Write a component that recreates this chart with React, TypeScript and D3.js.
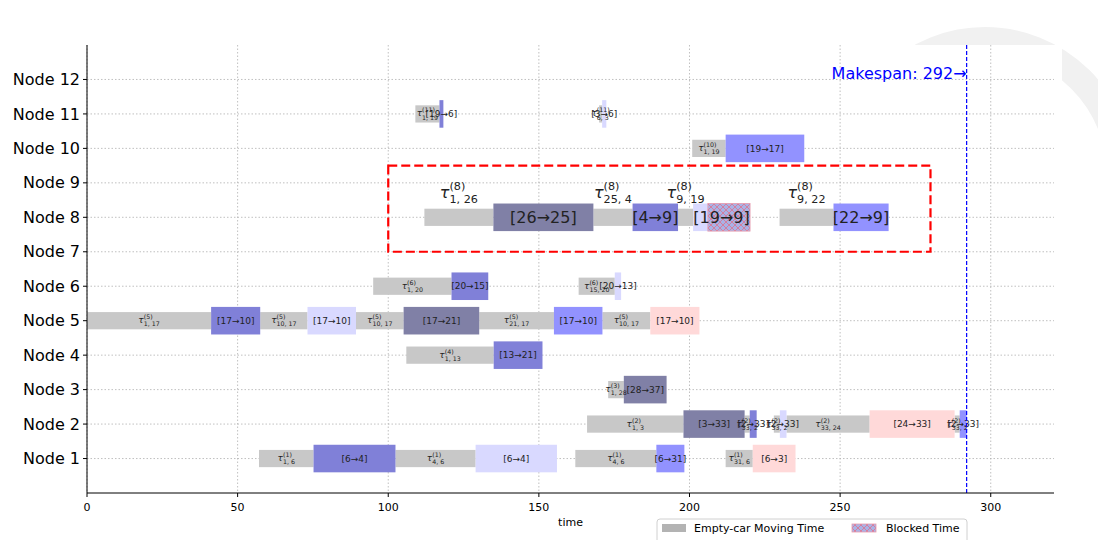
import React from 'react';
import * as d3 from 'd3';

// node rows
const nodeLabels = ['Node 1', 'Node 2', 'Node 3', 'Node 4', 'Node 5', 'Node 6', 'Node 7', 'Node 8', 'Node 9', 'Node 10', 'Node 11', 'Node 12'];
const xTicks = [0, 50, 100, 150, 200, 250, 300];

// empty-car moves: [node, start, end, superscript, subscript]
const emptyMoves: [number, number, number, string, string][] = [
  [1, 57.1, 75.2, '1', '1,6'],
  [1, 102.4, 129, '1', '4,6'],
  [1, 162.1, 189, '1', '4,6'],
  [1, 212, 221, '1', '31,6'],
  [2, 166, 198, '2', '1,3'],
  [2, 218.3, 220, '2', '33,2'],
  [2, 228, 230, '2', '33,2'],
  [2, 232.2, 259.8, '2', '33,24'],
  [2, 288, 289.7, '2', '33,2'],
  [3, 173, 178.2, '3', '1,28'],
  [4, 106, 135, '4', '1,13'],
  [5, 0, 41.2, '5', '1,17'],
  [5, 57.5, 73.2, '5', '10,17'],
  [5, 89.3, 105.1, '5', '10,17'],
  [5, 130.2, 155, '5', '21,17'],
  [5, 171.1, 187, '5', '10,17'],
  [6, 95, 121, '6', '1,20'],
  [6, 163.2, 175.2, '6', '15,20'],
  [8, 112, 134.9, '8', '1,26'],
  [8, 168.1, 181.1, '8', '25,4'],
  [8, 196.2, 201.2, '8', '9,19'],
  [8, 229.9, 247.8, '8', '9,22'],
  [10, 200.9, 212, '10', '1,19'],
  [11, 109, 117, '11', '1,19'],
  [11, 170, 171, '11', '6,3'],
];

// transport tasks: [node, start, end, from, to, kind]
const tasks: [number, number, number, number, number, string][] = [
  [1, 75.2, 102.4, 6, 4, 'mid'],
  [1, 129, 156, 6, 4, 'light'],
  [1, 189, 198.3, 6, 31, 'bright'],
  [1, 221, 235.2, 6, 3, 'pink'],
  [2, 198, 218.3, 3, 33, 'dark'],
  [2, 220, 222.3, 2, 33, 'mid'],
  [2, 230, 232.2, 2, 33, 'light'],
  [2, 259.8, 288, 24, 33, 'pink'],
  [2, 289.7, 292, 2, 33, 'bright'],
  [3, 178.2, 192.4, 28, 37, 'dark'],
  [4, 135, 151.2, 13, 21, 'mid'],
  [5, 41.2, 57.5, 17, 10, 'mid'],
  [5, 73.2, 89.3, 17, 10, 'light'],
  [5, 105.1, 130.2, 17, 21, 'dark'],
  [5, 155, 171.1, 17, 10, 'bright'],
  [5, 187, 203.3, 17, 10, 'pink'],
  [6, 121, 133.2, 20, 15, 'mid'],
  [6, 175.2, 177.3, 20, 13, 'light'],
  [8, 134.9, 168.1, 26, 25, 'dark'],
  [8, 181.1, 196.2, 4, 9, 'mid'],
  [8, 201.2, 220.1, 19, 9, 'light'],
  [8, 247.8, 266.1, 22, 9, 'bright'],
  [10, 212, 238.1, 19, 17, 'bright'],
  [11, 117, 118.3, 19, 6, 'mid'],
  [11, 171, 172.4, 3, 6, 'light'],
];

// blocked intervals: [node, start, end]
const blocked: [number, number, number][] = [[8, 206.1, 220.1]];

const makespan = 292;
const highlightNode = 8;
const highlightBox = { x0: 100, x1: 280, y0: 7, y1: 9.5 };

const kindColor: Record<string, string> = {
  dark: '#8080a6',
  mid: '#8080d8',
  bright: '#9292ff',
  light: '#d9d9ff',
  pink: '#ffd9d9',
};

const FONT = 'DejaVu Sans, sans-serif';

const charW = (c: string) => (c === ',' || c === ' ' ? 0.318 : c === '(' || c === ')' ? 0.39 : 0.636);
const strW = (s: string, size: number) => s.split('').reduce((a, c) => a + charW(c), 0) * size;

function Tau({ cx, cy, k, sub, size }: { cx: number; cy: number; k: string; sub: string; size: number }) {
  const s = size * 0.7;
  const subTxt = sub.replace(',', ', ');
  const supTxt = '(' + k + ')';
  const tw = size * 0.6;
  const total = tw + Math.max(strW(supTxt, s), strW(subTxt, s));
  const x0 = cx - total / 2;
  return (
    <g fontFamily={FONT} fill="#222">
      <text x={x0} y={cy + size * 0.27} fontSize={size} fontStyle="italic">τ</text>
      <text x={x0 + tw} y={cy - size * 0.42 + s * 0.35} fontSize={s}>{supTxt}</text>
      <text x={x0 + tw} y={cy + size * 0.38 + s * 0.35} fontSize={s}>{subTxt}</text>
    </g>
  );
}

export default function App() {
  const W = 1098, H = 540;
  const x = d3.scaleLinear().domain([0, 321]).range([87, 1054]);
  const y = d3.scaleLinear().domain([0, 13]).range([493, 45]);
  const unit = y(0) - y(1);
  const grayH = unit * 0.5;
  const barH = unit * 0.8;
  const nodes = d3.range(1, nodeLabels.length + 1);

  return (
    <svg width={W} height={H} style={{ position: 'absolute', left: 0, top: 0 }}>
      <defs>
        <pattern id="hatch" width="6" height="6" patternUnits="userSpaceOnUse">
          <rect width="6" height="6" fill="#a9b3e6" />
          <path d="M0,0 L6,6 M6,0 L0,6" stroke="#e0708c" strokeWidth="0.8" />
        </pattern>
        <clipPath id="sealClip">
          <rect x={0} y={0} width={W} height={160} />
        </clipPath>
      </defs>
      <rect width={W} height={H} fill="#fff" />
      {/* faint seal watermark */}
      <circle cx={985} cy={175} r={135} fill="none" stroke="#f1f1f1" strokeWidth={26} clipPath="url(#sealClip)" />
      <rect x={x(0)} y={y(13)} width={1062 - x(0)} height={y(0) - y(13)} fill="#fff" />

      {/* grid */}
      <g stroke="#b0b0b0" strokeWidth={0.8} strokeDasharray="1.5,2">
        {nodes.map(n => <line key={'h' + n} x1={x(0)} x2={x(321)} y1={y(n)} y2={y(n)} />)}
        {xTicks.map(t => <line key={'v' + t} x1={x(t)} x2={x(t)} y1={y(13)} y2={y(0)} />)}
      </g>

      {/* empty-car bars */}
      {emptyMoves.map(([n, s, e], i) => (
        <rect key={'g' + i} x={x(s)} y={y(n) - grayH / 2} width={x(e) - x(s)} height={grayH} fill="#c8c8c8" />
      ))}
      {/* tasks */}
      {tasks.map(([n, s, e, , , kind], i) => (
        <rect key={'t' + i} x={x(s)} y={y(n) - barH / 2} width={x(e) - x(s)} height={barH} fill={kindColor[kind]} />
      ))}
      {blocked.map(([n, s, e], i) => (
        <rect key={'b' + i} x={x(s)} y={y(n) - barH / 2} width={x(e) - x(s)} height={barH} fill="url(#hatch)" stroke="#e89aac" strokeWidth={0.8} />
      ))}

      {/* labels */}
      {emptyMoves.map(([n, s, e, k, sub], i) => {
        const big = n === highlightNode;
        const cx = (x(s) + x(e)) / 2;
        const cy = big ? y(n + 0.7) : y(n);
        return <Tau key={'gl' + i} cx={cx} cy={cy} k={k} sub={sub} size={big ? 16 : 9} />;
      })}
      {tasks.map(([n, s, e, a, b], i) => {
        const big = n === highlightNode;
        return (
          <text key={'tl' + i} x={(x(s) + x(e)) / 2} y={y(n)} dy="0.35em" textAnchor="middle"
            fontFamily={FONT} fontSize={big ? 16 : 9} fill="#222">{`[${a}→${b}]`}</text>
        );
      })}

      {/* highlight box */}
      <rect x={x(highlightBox.x0)} y={y(highlightBox.y1)} width={x(highlightBox.x1) - x(highlightBox.x0)}
        height={y(highlightBox.y0) - y(highlightBox.y1)} fill="none" stroke="#ff0000" strokeWidth={2.2} strokeDasharray="9,4" />

      {/* makespan */}
      <line x1={x(makespan)} x2={x(makespan)} y1={y(13)} y2={y(0)} stroke="#0000ff" strokeWidth={1.2} strokeDasharray="4,2" />
      <text x={x(makespan)} y={y(12.17)} dy="0.35em" textAnchor="end" fontFamily={FONT} fontSize={16} fill="#0000ff">
        {`Makespan: ${makespan}→`}
      </text>

      {/* axes */}
      <line x1={x(0)} x2={x(0)} y1={y(13)} y2={y(0)} stroke="#000" strokeWidth={1} />
      <line x1={x(0)} x2={x(321)} y1={y(0)} y2={y(0)} stroke="#000" strokeWidth={1} />
      {xTicks.map(t => (
        <g key={'xt' + t}>
          <line x1={x(t)} x2={x(t)} y1={y(0)} y2={y(0) + 4} stroke="#000" />
          <text x={x(t)} y={y(0) + 18} textAnchor="middle" fontFamily={FONT} fontSize={11}>{t}</text>
        </g>
      ))}
      {nodes.map(n => (
        <g key={'yt' + n}>
          <line x1={x(0) - 4} x2={x(0)} y1={y(n)} y2={y(n)} stroke="#000" />
          <text x={x(0) - 7} y={y(n)} dy="0.35em" textAnchor="end" fontFamily={FONT} fontSize={16}>{nodeLabels[n - 1]}</text>
        </g>
      ))}
      <text x={(x(0) + x(321)) / 2} y={526} textAnchor="middle" fontFamily={FONT} fontSize={11}>time</text>

      {/* legend */}
      <g fontFamily={FONT} fontSize={11}>
        <rect x={657} y={519} width={310} height={30} rx={3} fill="#fff" stroke="#d0d0d0" />
        <rect x={662} y={524} width={24} height={8} fill="#b3b3b3" />
        <text x={694} y={532}>Empty-car Moving Time</text>
        <rect x={852} y={524} width={24} height={8} fill="url(#hatch)" stroke="#e89aac" strokeWidth={0.8} />
        <text x={886} y={532}>Blocked Time</text>
      </g>
    </svg>
  );
}
